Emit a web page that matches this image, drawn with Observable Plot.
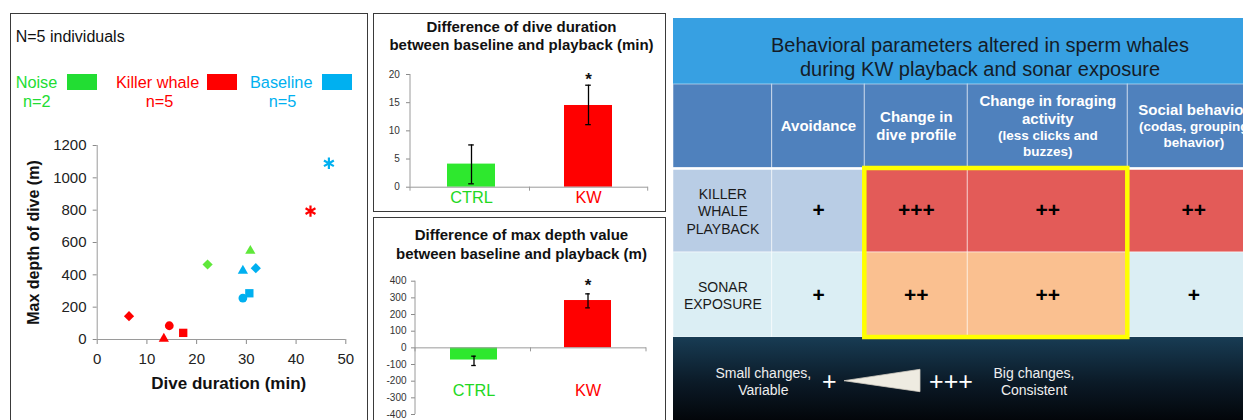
<!DOCTYPE html>
<html>
<head>
<meta charset="utf-8">
<script src="https://cdn.jsdelivr.net/npm/d3@7"></script>
<script src="https://cdn.jsdelivr.net/npm/@observablehq/plot@0.6"></script>
<style>
  html, body { margin: 0; padding: 0; background: #fff; }
  body { width: 1243px; height: 420px; overflow: hidden; }
  #root { position: relative; width: 1243px; height: 420px; overflow: hidden;
          font-family: "Liberation Sans", Arial, Helvetica, sans-serif; }
</style>
</head>
<body>
<div id="root"></div>
<script>
// ---------------- data ----------------
const countLabel = "N=5 individuals";
const seriesNames = ["Noise", "Killer whale", "Baseline"];
const seriesCounts = ["n=2", "n=5", "n=5"];

const noiseDuration = [22.2, 30.8];
const noiseDepth = [464, 548];
const noiseShape = ["diamond", "triangle"];

const killerDuration = [6.4, 14.5, 13.4, 17.3, 42.9];
const killerDepth = [144, 85, 5, 41, 794];
const killerShape = ["diamond", "circle", "triangle", "square", "asterisk"];

const baselineDuration = [29.3, 31.9, 29.3, 30.6, 46.6];
const baselineDepth = [425, 441, 256, 286, 1090];
const baselineShape = ["triangle", "diamond", "circle", "square", "asterisk"];

const durationTicks = [0, 10, 20, 30, 40, 50];
const depthTicks = [0, 200, 400, 600, 800, 1000, 1200];
const scatterXLabel = "Dive duration (min)";
const scatterYLabel = "Max depth of dive (m)";

const barGroups = ["CTRL", "KW"];
const significance = ["", "*"];

const durationTitle = "Difference of dive duration\nbetween baseline and playback (min)";
const durationDiff = [4.1, 14.5];
const durationLow = [0.6, 11.1];
const durationHigh = [7.5, 18.1];
const durationDiffTicks = [0, 5, 10, 15, 20];

const depthTitle = "Difference of max depth value\nbetween baseline and playback (m)";
const depthDiff = [-73, 284];
const depthLow = [-106, 240];
const depthHigh = [-50, 324];
const depthDiffTicks = [-400, -300, -200, -100, 0, 100, 200, 300, 400];

const tableTitle = "Behavioral parameters altered in sperm whales\nduring KW playback and sonar exposure";
const behaviorMain = ["Avoidance", "Change in\ndive profile", "Change in foraging\nactivity", "Social behavior"];
const behaviorSub = ["", "", "(less clicks and\nbuzzes)", "(codas, grouping\nbehavior)"];
const exposureLabels = ["KILLER\nWHALE\nPLAYBACK", "SONAR\nEXPOSURE"];
const killerWhaleResponse = ["+", "+++", "++", "++"];
const sonarResponse = ["+", "++", "++", "+"];
const highlightedBehaviors = [1, 2];
const scaleLowText = "Small changes,\nVariable";
const scaleHighText = "Big changes,\nConsistent";
const scaleLowSymbol = "+";
const scaleHighSymbol = "+++";

// ---------------- styles / layout ----------------
const FONT = '"Liberation Sans", Arial, Helvetica, sans-serif';
const seriesText = {"Noise": "#22dd33", "Killer whale": "#ff0000", "Baseline": "#00b0f0"};
const seriesPoint = {"Noise": "#5fe83a", "Killer whale": "#ff0000", "Baseline": "#00b0f0"};
const barFill = {"CTRL": "#2ee82e", "KW": "#ff0000"};
const barText = {"CTRL": "#22d822", "KW": "#ff0000"};
const tableFill = [
  ["#b9cde5", "#b9cde5", "#e35b58", "#e35b58", "#e35b58"],
  ["#dbeef4", "#dbeef4", "#fac090", "#fac090", "#dbeef4"]
];
const colW = [98.7, 92.6, 103, 160, 132];
const rowH = [66, 84, 84, 85, 83];

const root = document.getElementById("root");

function place(node, left, top) {
  const d = document.createElement("div");
  d.style.cssText = `position:absolute;left:${left}px;top:${top}px;`;
  d.appendChild(node);
  root.appendChild(d);
  return d;
}
function label(text, {x, y, size = 16, color = "#111", weight = "normal", anchor = "start", lh = 1.2, ls = 0}) {
  const d = document.createElement("div");
  d.textContent = text;
  const tx = anchor === "middle" ? "-50%" : anchor === "end" ? "-100%" : "0";
  const ta = anchor === "middle" ? "center" : anchor === "end" ? "right" : "left";
  d.style.cssText = `position:absolute;left:${x}px;top:${y}px;transform:translate(${tx},-50%);` +
    `font-family:${FONT};font-size:${size}px;font-weight:${weight};color:${color};white-space:pre;` +
    `line-height:${lh};text-align:${ta};letter-spacing:${ls}px;`;
  root.appendChild(d);
  return d;
}
function box(left, top, w, h) {
  const d = document.createElement("div");
  d.style.cssText = `position:absolute;left:${left}px;top:${top}px;width:${w}px;height:${h}px;` +
    `border:1.5px solid #3a3a3a;box-sizing:border-box;`;
  root.appendChild(d);
}

// ---------------- left panel: scatter ----------------
box(10, 13, 358, 440);
label(countLabel, {x: 15.7, y: 37, size: 16});
const legendX = [15.7, 116, 250];
const swatchX = [67.3, 206.7, 321.7];
const countX = [36.7, 159.5, 282.5];
seriesNames.forEach((s, i) => {
  label(s, {x: legendX[i], y: 82.5, size: 16.3, color: seriesText[s]});
  const sw = document.createElement("div");
  sw.style.cssText = `position:absolute;left:${swatchX[i]}px;top:74px;width:30px;height:16px;background:${seriesText[s]};`;
  root.appendChild(sw);
  label(seriesCounts[i], {x: countX[i], y: 101.7, size: 16.3, color: seriesText[s], anchor: "middle"});
});

const scatterRows = [
  ...noiseDuration.map((d, i) => ({series: "Noise", duration: d, depth: noiseDepth[i], shape: noiseShape[i]})),
  ...killerDuration.map((d, i) => ({series: "Killer whale", duration: d, depth: killerDepth[i], shape: killerShape[i]})),
  ...baselineDuration.map((d, i) => ({series: "Baseline", duration: d, depth: baselineDepth[i], shape: baselineShape[i]}))
];
const symbolOf = {diamond: "diamond2", circle: "circle", triangle: "triangle2", square: "square2", asterisk: "asterisk"};
const radiusOf = {diamond: 4.6, circle: 4.4, triangle: 4.9, square: 5.3, asterisk: 5.4};
const shapeMarks = Object.keys(symbolOf).map(s => {
  const rows = scatterRows.filter(d => d.shape === s);
  return s === "asterisk"
    ? Plot.dot(rows, {x: "duration", y: "depth", symbol: "asterisk", r: radiusOf[s], stroke: d => seriesPoint[d.series], strokeWidth: 2.2})
    : Plot.dot(rows, {x: "duration", y: "depth", symbol: symbolOf[s], r: radiusOf[s], fill: d => seriesPoint[d.series], stroke: "none"});
});

const scatter = Plot.plot({
  width: 370, height: 420,
  marginLeft: 96.7, marginRight: 24.7, marginTop: 145, marginBottom: 81,
  x: {domain: [0, 50]},
  y: {domain: [0, 1200]},
  color: {type: "identity"},
  style: {fontFamily: FONT, fontSize: "15px", color: "#222", background: "transparent", overflow: "visible"},
  marks: [
    Plot.axisY({ticks: depthTicks, tickFormat: d => String(d), tickSize: 4, tickPadding: 6.7, stroke: "#8a8a8a", fill: "#222", fontSize: 15, label: null}),
    Plot.axisX({ticks: durationTicks, tickFormat: d => String(d), tickSize: 5, tickPadding: 9, stroke: "#8a8a8a", fill: "#222", fontSize: 15, label: null}),
    Plot.ruleX([0], {stroke: "#9a9a9a"}),
    Plot.ruleY([0], {stroke: "#9a9a9a"}),
    ...shapeMarks,
    Plot.text([scatterYLabel], {text: d => d, frameAnchor: "left", textAnchor: "middle", dx: -63.4, rotate: -90, fontSize: 16, fontWeight: "bold", fill: "#111"}),
    Plot.text([scatterXLabel], {text: d => d, frameAnchor: "bottom", textAnchor: "middle", dx: 7.3, dy: 49.3, fontSize: 17, fontWeight: "bold", fill: "#111"})
  ]
});
place(scatter, 0, 0);

// ---------------- middle panels: bar charts ----------------
function barChart({title, titleY, titleLh, mean, lo, hi, domain, ticks, left, top, width, height,
                   mL, mR, mT, mB, pI, pO, tickPadding, starDy, catAnchor, catDy}) {
  const rows = barGroups.map((g, i) => ({group: g, mean: mean[i], lo: lo[i], hi: hi[i], sig: significance[i]}));
  const axisLine = (index, scales, values, dims) => {
    const g = d3.create("svg:g").attr("stroke", "#9a9a9a").attr("fill", "none");
    const x0 = dims.marginLeft, x1 = dims.width - dims.marginRight;
    g.append("line").attr("x1", x0).attr("x2", x0).attr("y1", dims.marginTop).attr("y2", dims.height - dims.marginBottom);
    const yz = scales.y(0);
    const bw = scales.x.bandwidth ? scales.x.bandwidth() : 0;
    const mid = (scales.x(barGroups[0]) + bw + scales.x(barGroups[1])) / 2;
    [x0, mid, x1].forEach(x => g.append("line").attr("x1", x).attr("x2", x).attr("y1", yz).attr("y2", yz + 4));
    return g.node();
  };
  const chart = Plot.plot({
    width, height, marginLeft: mL, marginRight: mR, marginTop: mT, marginBottom: mB,
    x: {domain: barGroups, paddingInner: pI, paddingOuter: pO, axis: null},
    y: {domain},
    color: {type: "identity"},
    style: {fontFamily: FONT, fontSize: "10px", color: "#222", background: "transparent", overflow: "visible"},
    marks: [
      Plot.axisY({ticks, tickFormat: d => String(d), tickSize: 4, tickPadding, stroke: "#8a8a8a", fill: "#333", fontSize: 10, label: null}),
      Plot.barY(rows, {x: "group", y: "mean", fill: d => barFill[d.group]}),
      Plot.ruleY([0], {stroke: "#9a9a9a"}),
      axisLine,
      Plot.ruleX(rows, {x: "group", y1: "lo", y2: "hi", stroke: "#000", strokeWidth: 1.3}),
      Plot.tickY(rows, {x: "group", y: "lo", insetLeft: 21.2, insetRight: 21.2, stroke: "#000", strokeWidth: 1.3}),
      Plot.tickY(rows, {x: "group", y: "hi", insetLeft: 21.2, insetRight: 21.2, stroke: "#000", strokeWidth: 1.3}),
      Plot.text(rows.filter(d => d.sig), {x: "group", y: "hi", text: "sig", dy: starDy, fontSize: 17, fontWeight: "bold", fill: "#111"}),
      Plot.text(rows, {x: "group", text: "group", frameAnchor: catAnchor, textAnchor: "middle", dy: catDy, fontSize: 16.3, fill: d => barText[d.group]})
    ]
  });
  place(chart, left, top);
  label(title, {x: 521.5, y: titleY, size: 15, weight: "bold", anchor: "middle", lh: titleLh, color: "#111"});
}

box(373.3, 13.3, 292.7, 199);
barChart({
  title: durationTitle, titleY: 36, titleLh: 1.22,
  mean: durationDiff, lo: durationLow, hi: durationHigh, domain: [0, 20], ticks: durationDiffTicks,
  left: 370, top: 0, width: 300, height: 215, mL: 40, mR: 22.3, mT: 74, mB: 28.3,
  pI: 0.593, pO: 0.304, tickPadding: 6.7, starDy: -6, catAnchor: "bottom", catDy: 16
});

box(373.3, 216.7, 292.7, 250);
barChart({
  title: depthTitle, titleY: 244, titleLh: 1.27,
  mean: depthDiff, lo: depthLow, hi: depthHigh, domain: [-400, 400], ticks: depthDiffTicks,
  left: 370, top: 215, width: 300, height: 205, mL: 45, mR: 24, mT: 65.7, mB: 6,
  pI: 0.589, pO: 0.305, tickPadding: 5, starDy: -8.6, catAnchor: "middle", catDy: 42.7
});

// ---------------- right panel: table ----------------
const cum = a => a.reduce((acc, w) => (acc.push(acc[acc.length - 1] + w), acc), [0]);
const colX = cum(colW);
const rowY = cum(rowH);
const colC = c => (colX[c] + colX[c + 1]) / 2;
const rowC = r => (rowY[r] + rowY[r + 1]) / 2;
const tableW = 570, tableH = rowY[rowY.length - 1];

const bands = [
  {x1: 0, x2: colX[5], y1: rowY[0], y2: rowY[1], fill: "#37a0e2"}
];
const cells = [];
for (let c = 0; c < 5; c++) cells.push({x1: colX[c], x2: colX[c + 1], y1: rowY[1], y2: rowY[2], fill: "#4f81bd"});
exposureLabels.forEach((e, r) => {
  for (let c = 0; c < 5; c++) cells.push({x1: colX[c], x2: colX[c + 1], y1: rowY[r + 2], y2: rowY[r + 3], fill: tableFill[r][c]});
});
const headerLines = [];
behaviorMain.forEach((m, i) => {
  const lines = [...m.split("\n").map(t => ({t, s: 15}))];
  if (behaviorSub[i]) lines.push(...behaviorSub[i].split("\n").map(t => ({t, s: 13.5})));
  const pos = [0];
  for (let k = 1; k < lines.length; k++) pos.push(pos[k - 1] + 0.6 * (lines[k - 1].s + lines[k].s));
  const mid = pos[pos.length - 1] / 2;
  lines.forEach((l, k) => headerLines.push({text: l.t, size: l.s, x: colC(i + 1), y: rowC(1) + pos[k] - mid}));
});
const responses = [];
[killerWhaleResponse, sonarResponse].forEach((arr, r) =>
  arr.forEach((v, i) => responses.push({text: v, x: colC(i + 1), y: rowC(r + 2)})));
const rowLabels = exposureLabels.map((t, r) => ({text: t, x: colC(0), y: rowC(r + 2)}));
const highlight = [{
  x1: colX[highlightedBehaviors[0] + 1], x2: colX[highlightedBehaviors[highlightedBehaviors.length - 1] + 2],
  y1: rowY[2], y2: rowY[4]
}];
const gradientDefs = () => {
  const defs = d3.create("svg:defs");
  const g = defs.append("linearGradient").attr("id", "bandGrad").attr("x1", 0).attr("y1", 0).attr("x2", 0).attr("y2", 1);
  g.append("stop").attr("offset", "0%").attr("stop-color", "#183c54");
  g.append("stop").attr("offset", "55%").attr("stop-color", "#0b1a27");
  g.append("stop").attr("offset", "100%").attr("stop-color", "#03060a");
  return defs.node();
};

const table = Plot.plot({
  width: tableW, height: tableH, margin: 0,
  x: {type: "linear", domain: [0, tableW], range: [0, tableW], axis: null},
  y: {type: "linear", domain: [0, tableH], range: [0, tableH], axis: null},
  color: {type: "identity"},
  style: {fontFamily: FONT, background: "transparent"},
  marks: [
    gradientDefs,
    Plot.rect(bands, {x1: "x1", x2: "x2", y1: "y1", y2: "y2", fill: "fill"}),
    Plot.rect(cells, {x1: "x1", x2: "x2", y1: "y1", y2: "y2", fill: "fill", stroke: "#ffffff", strokeOpacity: 0.5, strokeWidth: 1}),
    Plot.rect([{y1: rowY[4], y2: rowY[5]}], {x1: () => 0, x2: () => colX[5], y1: "y1", y2: "y2", fill: "url(#bandGrad)"}),
    Plot.ruleY([rowY[2]], {stroke: "#ffffff", strokeWidth: 2.5}),
    Plot.rect(highlight, {x1: "x1", x2: "x2", y1: "y1", y2: "y2", fill: "none", stroke: "#ffff00", strokeWidth: 4.5}),
    Plot.text(headerLines.filter(d => d.size === 15), {x: "x", y: "y", text: "text", fontSize: 15, fontWeight: "bold", fill: "#ffffff"}),
    Plot.text(headerLines.filter(d => d.size !== 15), {x: "x", y: "y", text: "text", fontSize: 13.5, fontWeight: "bold", fill: "#ffffff"}),
    Plot.text(rowLabels, {x: "x", y: "y", text: "text", fontSize: 14, lineHeight: 1.25, fill: "#1a1a1a"}),
    Plot.text(responses, {x: "x", y: "y", text: "text", fontSize: 21, fontWeight: "bold", fill: "#000"})
  ]
});
place(table, 673, 18);

label(tableTitle, {x: 980, y: 57, size: 20, color: "#141c28", anchor: "middle", lh: 1.2});
label(scaleLowText, {x: 763.3, y: 382.5, size: 14, color: "#eeeeee", anchor: "middle", lh: 1.26});
label(scaleLowSymbol, {x: 829.3, y: 381, size: 25, color: "#ffffff", anchor: "middle", lh: 1});
label(scaleHighSymbol, {x: 951, y: 381, size: 25, color: "#ffffff", anchor: "middle", lh: 1});
label(scaleHighText, {x: 1034, y: 382.5, size: 14, color: "#eeeeee", anchor: "middle", lh: 1.26});
const wedge = document.createElementNS("http://www.w3.org/2000/svg", "svg");
wedge.setAttribute("width", "80");
wedge.setAttribute("height", "26");
wedge.style.cssText = "position:absolute;left:843px;top:368px;";
wedge.innerHTML = '<polygon points="1,12.7 77,1.3 77,23.7" fill="#eeebe1" stroke="#cfcac0" stroke-width="0.8"/>';
root.appendChild(wedge);
</script>
</body>
</html>
